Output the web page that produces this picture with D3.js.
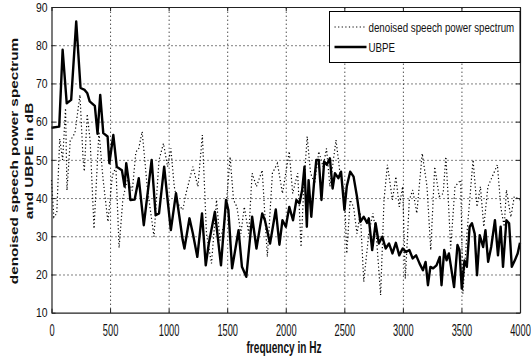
<!DOCTYPE html>
<html lang="en">
<head>
<meta charset="UTF-8">
<title>UBPE</title>
<style>
  body { margin: 0; background: #fff; }
  svg { display: block; font-family: "Liberation Sans", Arial, sans-serif; }
</style>
</head>
<body>
<svg width="531" height="362"></svg>
<script src="https://cdn.jsdelivr.net/npm/d3@7/dist/d3.min.js"></script>
<script>
var xTicks = [0, 500, 1000, 1500, 2000, 2500, 3000, 3500, 4000];
var yTicks = [10, 20, 30, 40, 50, 60, 70, 80, 90];
var legendLabels = ["denoised speech power spectrum", "UBPE"];

// UBPE (solid)
var ubpeHz = [0,66,95,130,168,211,248,283,306,326,370,393,416,442,479,494,528,557,601,624,638,658,673,710,745,788,855,889,918,962,
  991,1019,1063,1092,1120,1135,1178,1207,1245,1285,1317,1343,1395,1447,1490,1510,1542,1597,1626,1663,1713,1750,1799,1822,1866,1915,1946,1972,
  2001,2030,2062,2091,2117,2140,2160,2180,2195,2218,2241,2261,2282,2305,2328,2351,2377,2400,2420,2449,2472,2501,2521,2550,2579,2608,2637,2666,
  2694,2709,2738,2767,2795,2824,2853,2882,2911,2940,2969,2998,3027,3055,3084,3113,3142,3171,3194,3214,3235,3258,3287,3315,3330,3353,3373,3393,
  3411,3437,3466,3483,3503,3526,3546,3570,3590,3613,3633,3656,3685,3705,3728,3754,3786,3812,3835,3855,3884,3907,3930,3956,3980,4000];
var ubpeDb = [58.4,58.7,78.8,64.8,65.7,86.2,68.8,68.3,67.4,65.3,64.1,56.8,67.0,57.0,56.1,49.1,56.5,48.2,47.3,43.0,49.1,44.7,39.5,39.6,45.2,32.9,50.0,35.5,36.0,48.2,
  39.5,31.6,41.3,35.1,29.0,26.8,34.7,30.7,24.6,36.0,22.4,28.1,36.4,22.4,39.5,36.9,21.6,31.6,22.0,19.4,35.1,26.8,36.0,34.2,28.1,37.0,27.8,34.2,
  32.5,37.7,34.2,39.5,38.6,42.1,48.2,32.5,44.7,35.1,43.8,50.0,50.0,39.5,49.6,48.7,50.4,42.5,46.5,45.2,46.9,36.9,43.0,46.9,45.6,40.4,33.8,35.1,
  33.5,34.7,26.4,33.4,28.1,29.9,26.8,28.1,25.5,28.3,25.0,26.8,25.9,26.4,24.2,25.0,22.9,21.1,23.3,17.2,22.0,21.6,22.4,24.6,17.2,26.4,23.7,25.5,
  22.0,16.7,27.7,26.4,16.3,23.7,22.0,32.5,33.4,30.7,19.8,30.3,27.2,31.6,23.3,27.2,34.2,25.0,32.5,22.0,34.2,33.4,22.0,23.7,25.5,28.3];

// denoised speech power spectrum (dotted)
var specHz = [0,20,45,70,95,120,132,160,200,243,270,280,305,330,363,405,440,482,520,550,577,610,650,690,720,745,774,817,875,918,956,991,
  1019,1048,1077,1121,1149,1207,1250,1288,1323,1366,1409,1438,1482,1525,1554,1583,1617,1646,1684,1713,1750,1799,1843,1886,1929,1972,
  2030,2059,2102,2131,2154,2183,2212,2247,2282,2319,2348,2377,2429,2463,2501,2521,2550,2579,2608,2637,2666,2709,2744,2772,2810,2839,2868,
  2911,2940,2969,2998,3021,3055,3084,3119,3165,3206,3238,3272,3310,3344,3367,3388,3408,3445,3494,3512,3547,3599,3633,3662,3691,3726,
  3807,3836,3865,3884,3922,3951,4000];
var specDb = [44.7,35,36,55.5,50,63.5,42,55,57,67,50,47,62,55,32,57.4,45,33.8,46,48,27,40,45,42,52,53,57.4,43,29.9,50,54.3,48.2,
  53,43,38.6,36.9,41.3,48.2,43,56.5,30.7,22.9,39.5,28.9,34.2,50.8,39.5,37.7,30.7,37.7,30.7,46.5,43,47.3,24.6,46.5,49.1,41.2,
  52.2,41.2,46.5,27.2,43,56.1,46.5,43.8,52.2,48.2,53,43,55.2,46.5,41.2,25.5,39.5,37.7,30.7,36,18.1,30.7,36,30.7,14.6,39.5,48.7,
  39.5,45.6,37.7,43,18.9,39.5,42.1,36,51.7,43,26.4,48.2,40.4,41.2,50.8,39.5,26.8,43,44.7,15,30.7,50,37.7,43,32.5,43,
  48.7,37.7,32.5,42.1,35,40.4,39.5];

var svg = d3.select("svg"),
    margin = {top: 7, right: 11, bottom: 49.3, left: 51.5},
    width = +svg.attr("width") - margin.left - margin.right,
    height = +svg.attr("height") - margin.top - margin.bottom;

svg.append("rect").attr("width", 531).attr("height", 362).attr("fill", "#fff");

var x = d3.scaleLinear().domain([0, 4000]).range([0, width]);
var y = d3.scaleLinear().domain([10, 90]).range([height, 0]);

var g = svg.append("g").attr("transform", "translate(" + margin.left + "," + margin.top + ")");

// grid
g.append("g")
  .attr("class", "grid")
  .attr("transform", "translate(0," + height + ")")
  .call(d3.axisBottom(x).tickValues(xTicks.slice(1, -1)).tickSize(-height).tickFormat(""))
  .call(s => s.select(".domain").remove());
g.append("g")
  .attr("class", "grid")
  .call(d3.axisLeft(y).tickValues(yTicks.slice(1, -1)).tickSize(-width).tickFormat(""))
  .call(s => s.select(".domain").remove());
g.selectAll(".grid line").attr("stroke", "#000").attr("stroke-width", 1).attr("stroke-dasharray", "1,3");

// data lines
var ubpe = ubpeHz.map((h, i) => ({hz: h, db: ubpeDb[i]}));
var spec = specHz.map((h, i) => ({hz: h, db: specDb[i]}));
var line = d3.line().x(d => x(d.hz)).y(d => y(d.db));

g.append("path").datum(spec)
  .attr("d", line)
  .attr("fill", "none")
  .attr("stroke", "#000")
  .attr("stroke-width", 1.2)
  .attr("stroke-dasharray", "1.2,2.4");

g.append("path").datum(ubpe)
  .attr("d", line)
  .attr("fill", "none")
  .attr("stroke", "#000")
  .attr("stroke-width", 2.4)
  .attr("stroke-linejoin", "round");

// axes, ticks inward (matlab style)
var xAxis = g.append("g")
  .attr("transform", "translate(0," + height + ")")
  .call(d3.axisBottom(x).tickValues(xTicks).tickFormat(d3.format("d")).tickSizeInner(-4).tickSizeOuter(0).tickPadding(12));
var yAxis = g.append("g")
  .call(d3.axisLeft(y).tickValues(yTicks).tickSizeInner(-4).tickSizeOuter(0).tickPadding(6));
g.append("g")
  .call(d3.axisTop(x).tickValues(xTicks).tickSizeInner(-4).tickSizeOuter(0).tickFormat(""));
g.append("g")
  .attr("transform", "translate(" + width + ",0)")
  .call(d3.axisRight(y).tickValues(yTicks).tickSizeInner(-4).tickSizeOuter(0).tickFormat(""));

g.selectAll(".domain").attr("stroke", "#222").attr("stroke-width", 1.2);
g.selectAll(".tick line").filter(function() { return !this.parentNode.parentNode.classList.contains("grid"); })
  .attr("stroke", "#222");

xAxis.selectAll("text")
  .attr("font-size", 16)
  .attr("fill", "#111")
  .attr("font-family", "'Liberation Sans', Arial, sans-serif")
  .attr("transform", "scale(0.58,1)");

yAxis.selectAll("text")
  .attr("font-size", 13)
  .attr("fill", "#111")
  .attr("font-family", "'Liberation Sans', Arial, sans-serif")
  .attr("x", -4 / 0.8)
  .attr("transform", "scale(0.8,1)");

// axis titles
svg.append("text")
  .attr("transform", "translate(284,353) scale(0.63,1)")
  .attr("text-anchor", "middle")
  .attr("font-size", 16)
  .attr("font-weight", "bold")
  .attr("fill", "#111")
  .text("frequency in Hz");

svg.append("text")
  .attr("transform", "translate(18,161) rotate(-90) scale(1,0.66)")
  .attr("text-anchor", "middle")
  .attr("font-size", 15.3)
  .attr("font-weight", "bold")
  .attr("fill", "#111")
  .text("denoised speech power spectrum");
svg.append("text")
  .attr("transform", "translate(32.5,161) rotate(-90) scale(1,0.66)")
  .attr("text-anchor", "middle")
  .attr("font-size", 15.3)
  .attr("font-weight", "bold")
  .attr("fill", "#111")
  .text("and UBPE in dB");

// legend
var leg = svg.append("g").attr("transform", "translate(329.5,11.5)");
leg.append("rect")
  .attr("width", 520 - 329.5)
  .attr("height", 51)
  .attr("fill", "#fff")
  .attr("stroke", "#000")
  .attr("stroke-width", 1);
var items = leg.selectAll(".item").data(legendLabels).enter().append("g")
  .attr("transform", (d, i) => "translate(0," + (15.5 + i * 20) + ")");
items.append("line")
  .attr("x1", 5).attr("x2", 37)
  .attr("stroke", "#000")
  .attr("stroke-width", (d, i) => i === 0 ? 1.2 : 2.4)
  .attr("stroke-dasharray", (d, i) => i === 0 ? "1.2,2.4" : null);
items.append("text")
  .attr("transform", "translate(39,4.5) scale(0.75,1)")
  .attr("font-size", 13)
  .attr("fill", "#111")
  .text(d => d);
</script>
</body>
</html>
